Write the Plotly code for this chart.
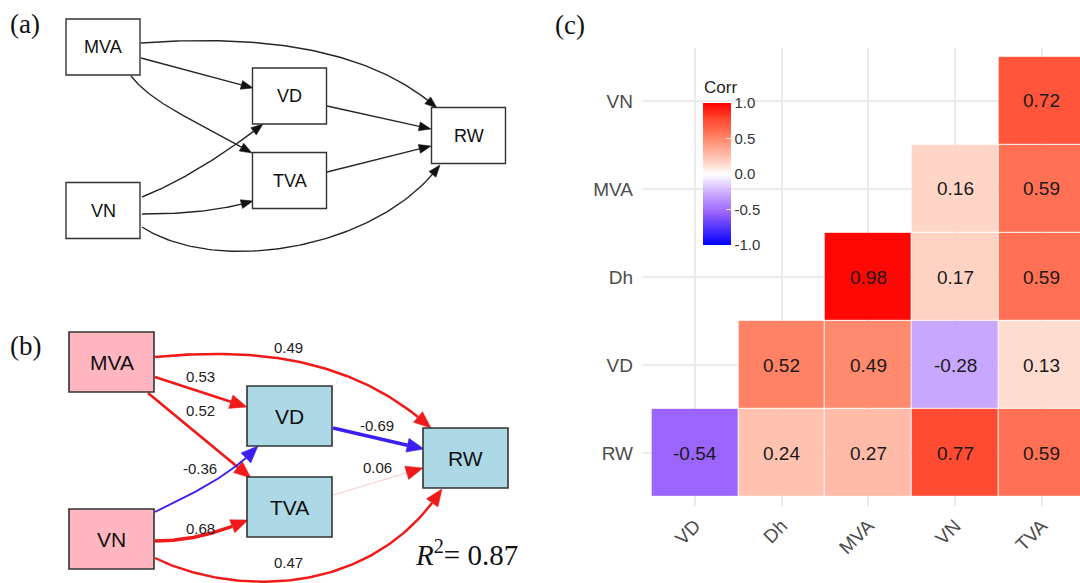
import numpy as np
import plotly.graph_objects as go

# ---------------- data ----------------
# correlation matrix, lower triangle (rows listed bottom -> top)
corr_cols = ["VD", "Dh", "MVA", "VN", "TVA"]
corr_rows = ["RW", "VD", "Dh", "MVA", "VN"]
corr_rw = [-0.54, 0.24, 0.27, 0.77, 0.59]
corr_vd = [None, 0.52, 0.49, -0.28, 0.13]
corr_dh = [None, None, 0.98, 0.17, 0.59]
corr_mva = [None, None, None, 0.16, 0.59]
corr_vn = [None, None, None, None, 0.72]

# path model: edges and standardised coefficients
path_from = ["MVA", "MVA", "MVA", "VN", "VN", "VN", "VD", "TVA"]
path_to = ["RW", "VD", "TVA", "VD", "TVA", "RW", "RW", "RW"]
path_coef = [0.49, 0.53, 0.52, -0.36, 0.68, 0.47, -0.69, 0.06]
r_squared = 0.87

# ---------------- styling / layout geometry ----------------
W, H = 1080, 583
SANS = "Liberation Sans, Arial, Helvetica, sans-serif"
SERIF = "Liberation Serif, Times New Roman, serif"

# node centres on the diagram canvas (canvas units = pixels of the left half)
A_NODES = {"MVA": (103, 47), "VN": (103, 210.5), "VD": (289.5, 96),
           "TVA": (289.5, 180.5), "RW": (468.5, 135.5)}
A_SIZE = (74, 56)
B_NODES = {"MVA": (111.5, 362), "VN": (111.5, 539), "VD": (289.5, 416),
           "TVA": (289.5, 507), "RW": (465.5, 458)}
B_SIZE = (85, 60)


def straight(p0, p3):
    p0, p3 = np.asarray(p0, float), np.asarray(p3, float)
    return (p0, p0 + (p3 - p0) / 3, p0 + 2 * (p3 - p0) / 3, p3)


# edge routing (cubic Bezier control points; last point = arrow tip)
A_ROUTES = {
    ("MVA", "RW"): ((141, 43), (235, 36), (360, 40), (437, 108)),
    ("MVA", "VD"): straight((141, 58), (253, 88)),
    ("MVA", "TVA"): ((131, 76), (152, 103), (190, 118), (252, 153)),
    ("VN", "VD"): ((142, 197), (185, 180), (230, 150), (263, 124)),
    ("VN", "TVA"): ((142, 214), (195, 214), (225, 209), (253, 201)),
    ("VN", "RW"): ((142, 227), (220, 277), (380, 247), (440, 165)),
    ("VD", "RW"): straight((327, 106), (431, 129)),
    ("TVA", "RW"): straight((327, 172), (431, 146)),
}
B_ROUTES = {
    ("MVA", "RW"): ((155, 357), (250, 348), (350, 355), (431, 428)),
    ("MVA", "VD"): straight((155, 377), (247, 407)),
    ("MVA", "TVA"): straight((148, 393), (251, 478)),
    ("VN", "VD"): ((155, 512), (190, 495), (232, 475), (258, 446)),
    ("VN", "TVA"): ((155, 541), (190, 541), (220, 532), (248, 520)),
    ("VN", "RW"): ((155, 558), (230, 595), (370, 600), (442, 489)),
    ("VD", "RW"): straight((333, 428), (424, 449)),
    ("TVA", "RW"): straight((333, 495), (423, 468)),
}
B_LABEL_POS = {
    ("MVA", "RW"): (288, 347), ("MVA", "VD"): (200, 376),
    ("MVA", "TVA"): (200, 410), ("VN", "VD"): (200, 468),
    ("VN", "TVA"): (200, 528), ("VN", "RW"): (288, 562),
    ("VD", "RW"): (377, 425), ("TVA", "RW"): (377, 467),
}


def bezier(p0, p1, p2, p3, n=90):
    t = np.linspace(0, 1, n)[:, None]
    p0, p1, p2, p3 = (np.asarray(p, float) for p in (p0, p1, p2, p3))
    return (1 - t) ** 3 * p0 + 3 * (1 - t) ** 2 * t * p1 + 3 * (1 - t) * t ** 2 * p2 + t ** 3 * p3


def arrow_geometry(ctrl, head_len, head_w):
    pts = bezier(*ctrl)
    tip = pts[-1]
    dist = np.hypot(*(pts - tip).T)
    idx = np.where(dist >= head_len)[0][-1]
    direction = tip - pts[idx]
    direction = direction / np.hypot(*direction)
    base = tip - direction * head_len
    line = np.vstack([pts[: idx + 1], base])
    normal = np.array([-direction[1], direction[0]])
    tri = np.vstack([tip, base + normal * head_w / 2, base - normal * head_w / 2, tip])
    return line, tri


def rgba(hex_color, alpha):
    h = hex_color.lstrip("#")
    r, g, b = (int(h[i:i + 2], 16) for i in (0, 2, 4))
    return f"rgba({r},{g},{b},{alpha:.3f})"


fig = go.Figure()
shapes, annotations = [], []

# ---------------- panel (a): model structure ----------------
for src, dst in zip(path_from, path_to):
    line, tri = arrow_geometry(A_ROUTES[(src, dst)], 12, 9)
    fig.add_trace(go.Scatter(x=line[:, 0], y=line[:, 1], mode="lines",
                             line=dict(color="#262626", width=1.4),
                             xaxis="x2", yaxis="y2", hoverinfo="skip", showlegend=False))
    fig.add_trace(go.Scatter(x=tri[:, 0], y=tri[:, 1], mode="lines", fill="toself",
                             fillcolor="#111111", line=dict(color="#111111", width=0.5),
                             xaxis="x2", yaxis="y2", hoverinfo="skip", showlegend=False))

for name, (cx, cy) in A_NODES.items():
    w, h = A_SIZE
    shapes.append(dict(type="rect", xref="x2", yref="y2", x0=cx - w / 2, x1=cx + w / 2,
                       y0=cy - h / 2, y1=cy + h / 2, line=dict(color="#333333", width=1.4),
                       fillcolor="white", layer="above"))
    annotations.append(dict(x=cx, y=cy, xref="x2", yref="y2", text=name, showarrow=False,
                            font=dict(family=SANS, size=18, color="#111111")))

# ---------------- panel (b): fitted path coefficients ----------------
POS, NEG = "#F01A1A", "#3B1EF2"
for src, dst, c in zip(path_from, path_to, path_coef):
    base_col = POS if c > 0 else NEG
    width = max(1.0, 5.2 * abs(c))
    alpha = min(1.0, abs(c) / 0.25)
    line, tri = arrow_geometry(B_ROUTES[(src, dst)], 17, 14)
    fig.add_trace(go.Scatter(x=line[:, 0], y=line[:, 1], mode="lines",
                             line=dict(color=rgba(base_col, alpha), width=width),
                             xaxis="x2", yaxis="y2", hoverinfo="skip", showlegend=False))
    fig.add_trace(go.Scatter(x=tri[:, 0], y=tri[:, 1], mode="lines", fill="toself",
                             fillcolor=base_col, line=dict(color=base_col, width=0.5),
                             xaxis="x2", yaxis="y2", hoverinfo="skip", showlegend=False))
    lx, ly = B_LABEL_POS[(src, dst)]
    annotations.append(dict(x=lx, y=ly, xref="x2", yref="y2", text=f"{c:.2f}",
                            showarrow=False, font=dict(family=SANS, size=15, color="#222222")))

for name, (cx, cy) in B_NODES.items():
    w, h = B_SIZE
    fill = "#FFB6C1" if name in ("MVA", "VN") else "#ADD8E6"
    shapes.append(dict(type="rect", xref="x2", yref="y2", x0=cx - w / 2, x1=cx + w / 2,
                       y0=cy - h / 2, y1=cy + h / 2, line=dict(color="#333333", width=1.6),
                       fillcolor=fill, layer="above"))
    annotations.append(dict(x=cx, y=cy, xref="x2", yref="y2", text=name, showarrow=False,
                            font=dict(family=SANS, size=21, color="#111111")))

annotations.append(dict(x=466, y=553, xref="x2", yref="y2",
                        text=f"<i>R</i><sup>2</sup>= {r_squared:.2f}", showarrow=False,
                        font=dict(family=SERIF, size=29, color="#111111")))

# ---------------- panel (c): correlation heatmap ----------------
z = [corr_rw, corr_vd, corr_dh, corr_mva, corr_vn]
colorscale = [
    [0.0, "#0000FF"], [0.23, "#9B64FA"], [0.36, "#C8A8FF"], [0.5, "#FFFFFF"],
    [0.565, "#FFDCD0"], [0.62, "#FFC2B0"], [0.745, "#FF8A6E"], [0.795, "#FF7054"],
    [0.885, "#FF4B32"], [1.0, "#FF0000"],
]
fig.add_trace(go.Heatmap(
    z=z, x=corr_cols, y=corr_rows, zmin=-1, zmax=1, colorscale=colorscale,
    xgap=1, ygap=1, hoverinfo="skip",
    colorbar=dict(x=703 / W, xanchor="left", y=1 - 103 / H, yanchor="top",
                  len=142, lenmode="pixels", thickness=28, thicknessmode="pixels",
                  xpad=0, ypad=0, outlinewidth=0,
                  tickvals=[-1, -0.5, 0, 0.5, 1],
                  ticktext=["-1.0", "-0.5", "0.0", "0.5", "1.0"],
                  ticks="inside", tickcolor="rgba(255,255,255,0.8)", ticklen=5,
                  tickfont=dict(family=SANS, size=15, color="#333333")),
))
# value labels on the filled cells
for row_name, row in zip(corr_rows, z):
    for col_name, v in zip(corr_cols, row):
        if v is not None:
            annotations.append(dict(x=col_name, y=row_name, xref="x", yref="y",
                                    text=f"{v:.2f}", showarrow=False,
                                    font=dict(family=SANS, size=19, color="#1A1A1A")))

annotations.append(dict(x=702 / W, y=1 - 87 / H, xref="paper", yref="paper", text="Corr",
                        showarrow=False, xanchor="left", yanchor="middle",
                        font=dict(family=SANS, size=17, color="#222222")))

# panel tags
for tag, px, py in (("(a)", 8, 24), ("(b)", 8, 346), ("(c)", 553, 25)):
    annotations.append(dict(x=px / W, y=1 - py / H, xref="paper", yref="paper", text=tag,
                            showarrow=False, xanchor="left", yanchor="middle",
                            font=dict(family=SERIF, size=27, color="#111111")))

axis_common = dict(showgrid=True, gridcolor="#EBEBEB", gridwidth=1.5, zeroline=False,
                   showline=False, ticks="", automargin=False, fixedrange=True,
                   tickfont=dict(family=SANS, size=19, color="#4D4D4D"))
fig.update_layout(
    width=W, height=H, margin=dict(l=0, r=0, t=0, b=0),
    paper_bgcolor="white", plot_bgcolor="white", showlegend=False,
    xaxis=dict(domain=[643 / W, 1], range=[-0.6, 4.44], type="category", tickangle=-45,
               anchor="y", ticklabelstandoff=4, **axis_common),
    yaxis=dict(domain=[1 - 506 / H, 1 - 48 / H], range=[-0.6, 4.6], type="category",
               anchor="x", ticklabelstandoff=9, **axis_common),
    xaxis2=dict(domain=[0, 540 / W], range=[0, 540], visible=False, anchor="y2",
                fixedrange=True),
    yaxis2=dict(domain=[0, 1], range=[H, 0], visible=False, anchor="x2", fixedrange=True),
    shapes=shapes, annotations=annotations,
)

fig.write_html("out.html")
